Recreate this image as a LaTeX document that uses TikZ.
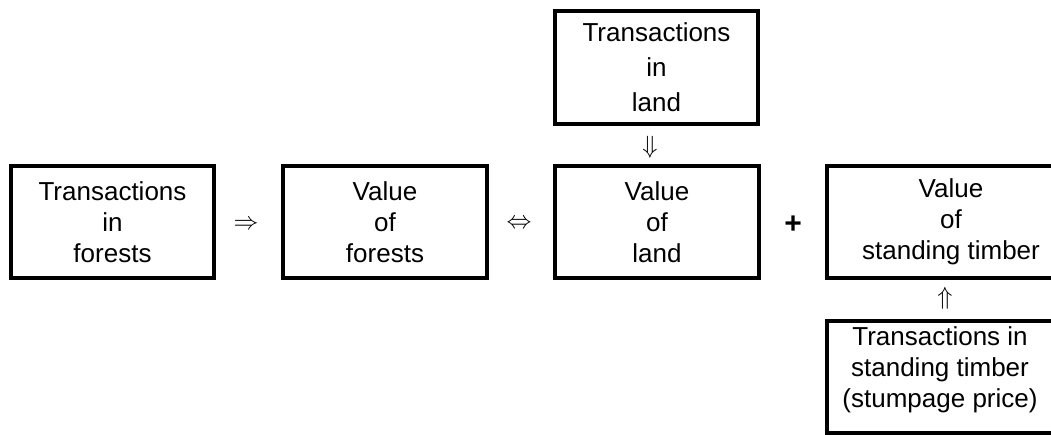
\documentclass[tikz,border=0pt]{standalone}
\usepackage{fontspec}
\setmainfont{Liberation Sans}
\begin{document}
\begin{tikzpicture}[x=1pt,y=-1pt,
  txtbox/.style={draw, line width=4pt, align=center, inner sep=0pt,
    font=\fontsize{26}{31}\selectfont, minimum height=112pt},
  plaintxt/.style={align=center, inner sep=0pt, font=\fontsize{26}{31}\selectfont},
  sym/.style={inner sep=0pt, font=\fontsize{30}{31}\selectfont}]
\useasboundingbox (0,0) rectangle (1051,434);
\node[txtbox, minimum width=203pt] (b1) at (112.5,222) {Transactions\\in\\forests};
\node[txtbox, minimum width=204pt] (b2) at (385,222) {Value\\of\\forests};
\node[txtbox, minimum width=204pt] (b3) at (657,222) {Value\\of\\land};
\node[txtbox, minimum width=248pt] (b4) at (951,222) {Value\\of\\standing timber};
\node[txtbox, minimum width=203pt, minimum height=113pt,
  font=\fontsize{26}{35}\selectfont] (top) at (656.5,67.5) {Transactions\\in\\land};
\node[txtbox, minimum width=226pt] (bot) at (940,377) {};
\node[plaintxt] (bottxt) at (940,370) {Transactions in\\standing timber\\(stumpage price)};
\node[sym] (a1) at (246,225) {$\Rightarrow$};
\node[sym] (a2) at (519,224) {$\Leftrightarrow$};
\node[sym] (plus) at (793,225) {\textbf{+}};
\node[sym, font=\fontsize{28}{31}\selectfont] (a3) at (650,147) {$\Downarrow$};
\node[sym, font=\fontsize{28}{31}\selectfont] (a4) at (945,298) {$\Uparrow$};
\end{tikzpicture}
\end{document}
